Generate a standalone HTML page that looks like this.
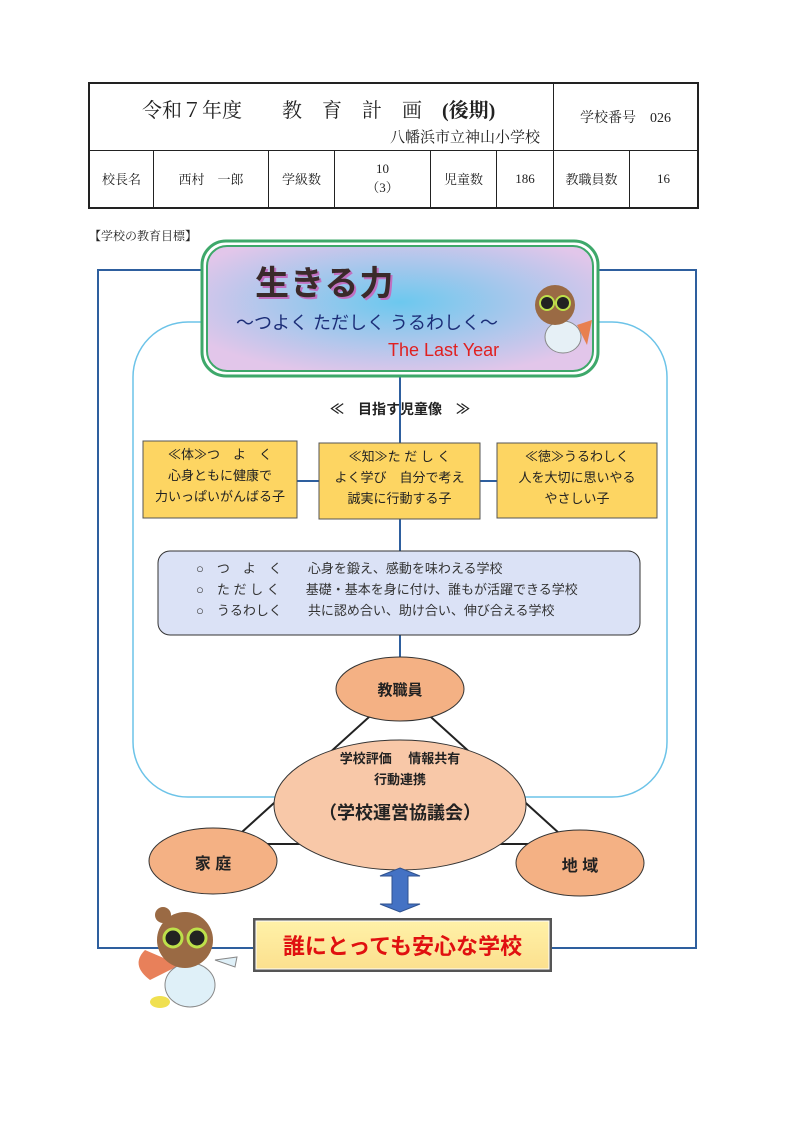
<!DOCTYPE html>
<html><head><meta charset="utf-8"><style>
body{margin:0;background:#fff;}
#p{position:relative;width:800px;height:1131px;font-family:"Liberation Sans","Noto Sans CJK JP",sans-serif;color:#222;overflow:hidden}
.a{position:absolute}
table{border-collapse:collapse;}
td{border:1px solid #222;text-align:center;font-family:"Liberation Serif","Noto Serif CJK SC",serif;font-size:13px;padding:0}
</style></head><body><div id="p">
<table class="a" style="left:88px;top:82px;width:611px;height:127px;border:2px solid #222">
<tr style="height:67px"><td colspan="6" style="position:relative;text-align:left">
<div class="a" style="left:52px;top:10px;font-size:20px;white-space:nowrap">令和７年度　　教　育　計　画　<b>(後期)</b></div>
<div class="a" style="left:300px;top:42px;font-size:15px;white-space:nowrap">八幡浜市立神山小学校</div></td>
<td colspan="2" style="font-size:14px">学校番号　026</td></tr>
<tr><td style="width:63px">校長名</td><td style="width:114px">西村　一郎</td><td style="width:65px">学級数</td><td style="width:95px">10<br>（3）</td><td style="width:65px">児童数</td><td style="width:56px">186</td><td style="width:75px">教職員数</td><td>16</td></tr>
</table>
<div class="a" style="left:89px;top:227px;font-size:12px;font-family:'Liberation Serif','Noto Serif CJK SC',serif">【学校の教育目標】</div>
<svg class="a" style="left:0;top:0" width="800" height="1131">
<defs><radialGradient id="g" cx="0.5" cy="0.45" r="0.6"><stop offset="0" stop-color="#6cc8ee"/><stop offset="1" stop-color="#e2c6ea"/></radialGradient>
<linearGradient id="y" x1="0" y1="0" x2="0" y2="1"><stop offset="0" stop-color="#fff1a8"/><stop offset="1" stop-color="#fbe08e"/></linearGradient></defs>
<rect x="98" y="270" width="598" height="678" fill="none" stroke="#2e5f9e" stroke-width="2"/>
<rect x="133" y="322" width="534" height="475" rx="55" fill="#fff" stroke="#6cc3e8" stroke-width="1.5"/>
<line x1="400" y1="376" x2="400" y2="690" stroke="#2e5f9e" stroke-width="2"/>
<line x1="297" y1="481" x2="497" y2="481" stroke="#2e5f9e" stroke-width="2"/>
<rect x="202" y="241" width="396" height="135" rx="24" fill="#fff" stroke="#3ea86a" stroke-width="3"/>
<rect x="207" y="246" width="386" height="125" rx="20" fill="url(#g)" stroke="#3ea86a" stroke-width="2"/>
<rect x="143" y="441" width="154" height="77" fill="#fdd562" stroke="#555"/>
<rect x="319" y="443" width="161" height="76" fill="#fdd562" stroke="#555"/>
<rect x="497" y="443" width="160" height="75" fill="#fdd562" stroke="#555"/>
<rect x="158" y="551" width="482" height="84" rx="12" fill="#dbe2f6" stroke="#333"/>
<polyline points="242,832 400,689 560,834" fill="none" stroke="#222" stroke-width="2"/>
<line x1="240" y1="844" x2="560" y2="844" stroke="#222" stroke-width="2"/>
<ellipse cx="400" cy="689" rx="64" ry="32" fill="#f4b184" stroke="#333"/>
<ellipse cx="400" cy="805" rx="126" ry="65" fill="#f8c8a8" stroke="#333"/>
<ellipse cx="213" cy="861" rx="64" ry="33" fill="#f4b184" stroke="#333"/>
<ellipse cx="580" cy="863" rx="64" ry="33" fill="#f4b184" stroke="#333"/>
<polygon points="400,868 420,876 408,876 408,904 420,904 400,912 380,904 392,904 392,876 380,876" fill="#4472c4" stroke="#2f528f"/>
<rect x="253" y="918" width="299" height="54" fill="#555"/>
<rect x="256" y="921" width="293" height="48" fill="url(#y)" stroke="#fff" stroke-width="1"/>
<g transform="translate(555,305)"><ellipse cx="8" cy="32" rx="18" ry="16" fill="#e6f0f6" stroke="#888"/><circle cx="0" cy="0" r="20" fill="#9a6a44"/><circle cx="-8" cy="-2" r="7" fill="#222" stroke="#bde04a" stroke-width="2"/><circle cx="8" cy="-2" r="7" fill="#222" stroke="#bde04a" stroke-width="2"/><path d="M22 20 l15 -5 l-5 25z" fill="#e88050"/></g>
<g transform="translate(185,940)"><path d="M-40 10 q-15 15 5 30 l30 -15z" fill="#e8805a"/><ellipse cx="5" cy="45" rx="25" ry="22" fill="#dff0f8" stroke="#888"/><circle cx="0" cy="0" r="28" fill="#9a6a44"/><circle cx="-12" cy="-2" r="9" fill="#222" stroke="#bde04a" stroke-width="3"/><circle cx="12" cy="-2" r="9" fill="#222" stroke="#bde04a" stroke-width="3"/><circle cx="-22" cy="-25" r="8" fill="#9a6a44"/><path d="M30 20 l22 -3 l-2 10z" fill="#dff0f8" stroke="#888"/><ellipse cx="-25" cy="62" rx="10" ry="6" fill="#f0e050"/></g>
</svg>
<div class="a" style="left:255px;top:256px;font-size:34px;font-weight:bold;color:#3a2a2a;text-shadow:2px 2px 0 #c070c0;letter-spacing:1px">生きる力</div>
<div class="a" style="left:236px;top:309px;font-size:18px;color:#1c2e78;white-space:nowrap">～つよく ただしく うるわしく～</div>
<div class="a" style="left:388px;top:340px;font-size:18px;color:#e02020">The Last Year</div>
<div class="a" style="left:330px;top:399px;font-size:14px;font-weight:bold;white-space:nowrap">≪　目指す児童像　≫</div>
<div class="a" style="left:143px;top:444px;width:154px;text-align:center;font-size:13px;line-height:21px">≪体≫つ　よ　く<br>心身ともに健康で<br>力いっぱいがんばる子</div>
<div class="a" style="left:319px;top:446px;width:161px;text-align:center;font-size:13px;line-height:21px">≪知≫た だ し く<br>よく学び　自分で考え<br>誠実に行動する子</div>
<div class="a" style="left:497px;top:446px;width:160px;text-align:center;font-size:13px;line-height:21px">≪徳≫うるわしく<br>人を大切に思いやる<br>やさしい子</div>
<div class="a" style="left:196px;top:558px;font-size:13px;line-height:21px;white-space:pre;color:#333">○　つ　よ　く　　心身を鍛え、感動を味わえる学校
○　た だ し く　　基礎・基本を身に付け、誰もが活躍できる学校
○　うるわしく　　共に認め合い、助け合い、伸び合える学校</div>
<div class="a" style="left:336px;top:679px;width:128px;text-align:center;font-size:15px;font-weight:bold">教職員</div>
<div class="a" style="left:274px;top:748px;width:252px;text-align:center;font-size:13px;font-weight:bold;line-height:21px">学校評価　 情報共有<br>行動連携</div>
<div class="a" style="left:274px;top:799px;width:252px;text-align:center;font-size:18px;font-weight:bold">（学校運営協議会）</div>
<div class="a" style="left:149px;top:850px;width:128px;text-align:center;font-size:16px;font-weight:bold">家 庭</div>
<div class="a" style="left:516px;top:852px;width:128px;text-align:center;font-size:16px;font-weight:bold">地 域</div>
<div class="a" style="left:253px;top:929px;width:299px;text-align:center;font-size:22px;font-weight:bold;color:#e01010">誰にとっても安心な学校</div>
</div></body></html>
